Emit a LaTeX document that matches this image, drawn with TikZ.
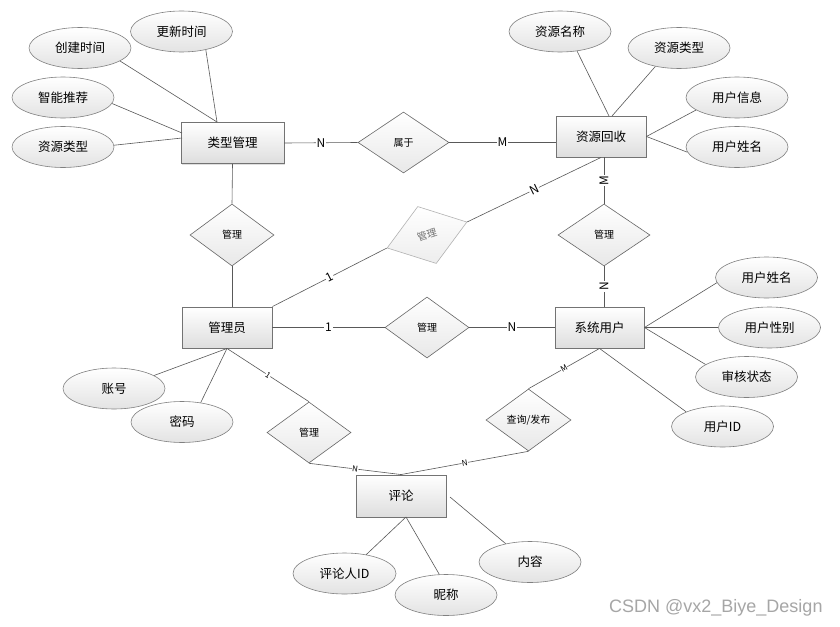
\documentclass[tikz,border=0pt]{standalone}
\usepackage{fontspec}
\setmainfont{Noto Sans CJK SC}
\newfontfamily\wmfont{Liberation Sans}
\usetikzlibrary{shapes.geometric,shadows}
\newcommand\fsz[1]{\fontsize{#1}{#1}\selectfont}
\begin{document}
\begin{tikzpicture}[x=1pt,y=-1pt,
  ent/.style={rectangle, draw=black!55, line width=0.9pt, top color=white, bottom color=black!13,
    minimum width=90pt, minimum height=41pt, inner sep=0pt, font=\fsz{12.5},
    drop shadow={shadow xshift=1pt, shadow yshift=-1pt, opacity=0.25}},
  attr/.style={ellipse, draw=black!50, line width=0.6pt, top color=white, bottom color=black!11,
    minimum width=102pt, minimum height=41pt, inner sep=0pt, font=\fsz{12.5}},
  rel/.style={diamond, draw=black!60, line width=0.6pt, top color=white, bottom color=black!9,
    minimum width=84pt, minimum height=62pt, inner sep=0pt, font=\fsz{10}},
  ln/.style={draw=black!65, line width=0.6pt},
  lab/.style={fill=white, inner sep=0.8pt, font=\fsz{12}},
  slab/.style={fill=white, inner sep=0.4pt, font=\fsz{8}, sloped}
]
\useasboundingbox (0,0) rectangle (840,626);
\fill[white] (0,0) rectangle (840,626);

% entities
\node[ent, minimum width=103pt] (tm) at (232.5,143) {类型管理};
\node[ent] (hs) at (601,136.5) {资源回收};
\node[ent] (gly) at (227,327.5) {管理员};
\node[ent, minimum width=89pt] (xt) at (599.5,327.5) {系统用户};
\node[ent, minimum height=42pt] (pl) at (401,496) {评论};

% relationships
\node[rel, minimum width=91pt, minimum height=61pt] (sy) at (403.5,142.5) {属于};
\node[rel] (dl) at (232,235) {管理};
\node[rel, minimum width=84pt, minimum height=60pt, rotate=18, draw=black!30, text=black!55,
  bottom color=black!7] (gd) at (427,235) {管理};
\node[rel, minimum width=92pt] (dr) at (604,235) {管理};
\node[rel, minimum height=61pt] (dm) at (427,327.5) {管理};
\node[rel, minimum height=61pt] (dbl) at (309,432.5) {管理};
\node[rel, minimum width=85pt] (cx) at (528.5,420) {查询/发布};

% attributes
\node[attr] (cj) at (80,48) {创建时间};
\node[attr] (gx) at (181.5,31.5) {更新时间};
\node[attr] (zn) at (63,97.5) {智能推荐};
\node[attr] (lxL) at (63,147) {资源类型};
\node[attr] (mc) at (560,31.5) {资源名称};
\node[attr] (lxR) at (679,48) {资源类型};
\node[attr] (xx) at (737,97.5) {用户信息};
\node[attr] (xmT) at (737,147) {用户姓名};
\node[attr] (xmR) at (766.5,277.5) {用户姓名};
\node[attr] (xb) at (769.5,327.5) {用户性别};
\node[attr] (sh) at (746.5,377) {审核状态};
\node[attr] (uid) at (722.5,426.5) {用户ID};
\node[attr] (zh) at (114,388.5) {账号};
\node[attr] (mm) at (182,422) {密码};
\node[attr, minimum width=103pt] (plr) at (344.5,573.5) {评论人ID};
\node[attr] (nc) at (446,595) {昵称};
\node[attr] (nr) at (530,562) {内容};

% connection points
\coordinate (tmT) at (217,122);
\coordinate (tmL1) at (182,133);
\coordinate (tmL2) at (182,138);
\coordinate (hsT1) at (609,116);
\coordinate (hsT2) at (612,116);
\coordinate (plB) at (406,517);
\coordinate (plR) at (450,497);

% attribute lines
\draw[ln] (cj.-18) -- (tmT);
\draw[ln] (gx.-37) -- (tmT);
\draw[ln] (zn.-7) -- (tmL1);
\draw[ln] (lxL.2) -- (tmL2);
\draw[ln] (mc.-49) -- (hsT1);
\draw[ln] (lxR.218) -- (hsT2);
\draw[ln] (xx.197) -- (hs.east);
\draw[ln] (xmT.186) -- (hs.east);
\draw[ln] (xmR.186) -- (xt.east);
\draw[ln] (xb.west) -- (xt.east);
\draw[ln] (sh.163) -- (xt.east);
\draw[ln] (uid.158) -- (xt.south);
\draw[ln] (zh.18) -- (gly.south);
\draw[ln] (mm.46) -- (gly.south);
\draw[ln] (plr.41) -- (plB);
\draw[ln] (nc.108) -- (plB);
\draw[ln] (nr.143) -- (plR);

% relationship lines
\draw[ln] (tm.east) -- node[lab]{N} (sy.west);
\draw[ln] (sy.east) -- node[lab]{M} (sy.east -| hs.west);
\draw[ln] (tm.south) -- (dl.north);
\draw[ln] (dl.south) -- (dl.south |- gly.north);
\draw[ln] (gly.north east) -- node[lab, sloped]{1} (gd.west);
\draw[ln] (gd.east) -- node[lab, sloped]{N} (hs.south);
\draw[ln] (dr.north |- hs.south) -- node[lab, rotate=90]{M} (dr.north);
\draw[ln] (dr.south) -- node[lab, rotate=90]{N} (dr.south |- xt.north);
\draw[ln] (gly.east) -- node[lab]{1} (dm.west);
\draw[ln] (dm.east) -- node[lab]{N} (xt.west);
\draw[ln] (gly.south) -- node[slab]{1} (dbl.north);
\draw[ln] (dbl.south) -- node[slab]{N} (pl.north);
\draw[ln] (cx.south) -- node[slab]{N} (pl.north);
\draw[ln] (xt.south) -- node[slab]{M} (cx.north);

% watermark
\node[font=\wmfont\fsz{18}, text=black!35, inner sep=0pt, anchor=base west] (wm) at (609,612) {CSDN @vx2\_Biye\_Design};
\end{tikzpicture}
\end{document}
